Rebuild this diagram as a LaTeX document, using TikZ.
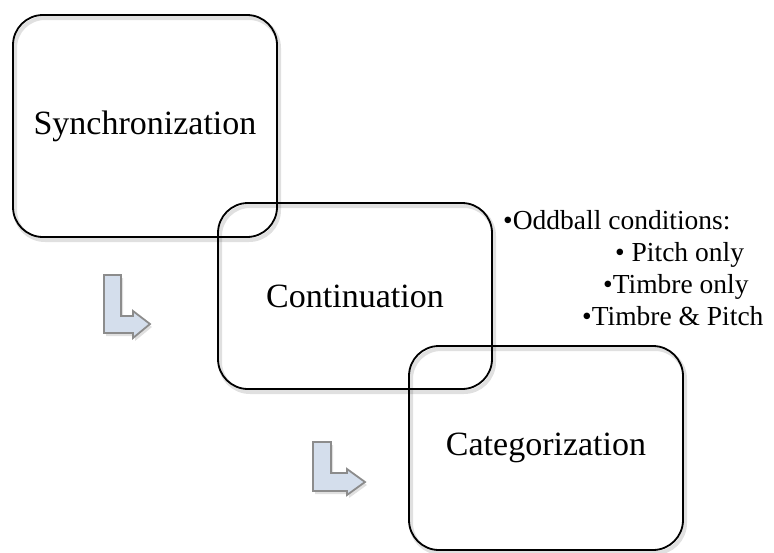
\documentclass[tikz,border=0pt]{standalone}
\usepackage{fontspec}
\setmainfont{Liberation Serif}
\definecolor{arrowfill}{RGB}{212,222,236}
\definecolor{arrowline}{RGB}{140,140,140}
\begin{document}
\begin{tikzpicture}[x=1pt,y=-1pt,
  box/.style={draw=black, line width=1.8pt, rounded corners=30pt, inner sep=0pt,
              font=\fontsize{34}{40}\selectfont},
  boxshadow/.style={draw=black, opacity=0.12, line width=4pt, rounded corners=30pt},
  bent/.style={fill=arrowfill, draw=arrowline, line width=1.8pt, line join=miter},
  bentshadow/.style={fill=black, opacity=0.12, draw=none},
  note/.style={anchor=base west, inner sep=0pt, font=\fontsize{27.5}{32}\selectfont}]
\useasboundingbox (0,0) rectangle (774,552);
% soft shadows of the boxes
\draw[boxshadow] (15,18) rectangle (279,240);
\draw[boxshadow] (220,206) rectangle (494,392);
\draw[boxshadow] (411,349) rectangle (685,553);
% boxes
\node[box, minimum width=264pt, minimum height=222pt] (syn) at (145,126) {Synchronization};
\node[box, minimum width=274pt, minimum height=186pt] (con) at (355,296) {Continuation};
\node[box, minimum width=274pt, minimum height=204pt] (cat) at (546,448) {Categorization};
% bent arrows
\fill[bentshadow] (106,278) -- (123,278) -- (123,319) -- (135,319) -- (135,314) -- (152,327) -- (135,341) -- (135,336) -- (106,336) -- cycle;
\draw[bent] (104,275) -- (121,275) -- (121,316) -- (133,316) -- (133,311) -- (150,324) -- (133,338) -- (133,333) -- (104,333) -- cycle;
\fill[bentshadow] (315,445) -- (333,445) -- (333,476) -- (349,476) -- (349,472) -- (367,485) -- (349,498) -- (349,494) -- (315,494) -- cycle;
\draw[bent] (313,442) -- (331,442) -- (331,473) -- (347,473) -- (347,469) -- (365,482) -- (347,495) -- (347,491) -- (313,491) -- cycle;
% conditions list
\node[note] (l1) at (503,229) {•Oddball conditions:};
\node[note] (l2) at (615,261) {• Pitch only};
\node[note] (l3) at (603,293) {•Timbre only};
\node[note] (l4) at (582,325) {•Timbre \& Pitch};
\end{tikzpicture}
\end{document}
